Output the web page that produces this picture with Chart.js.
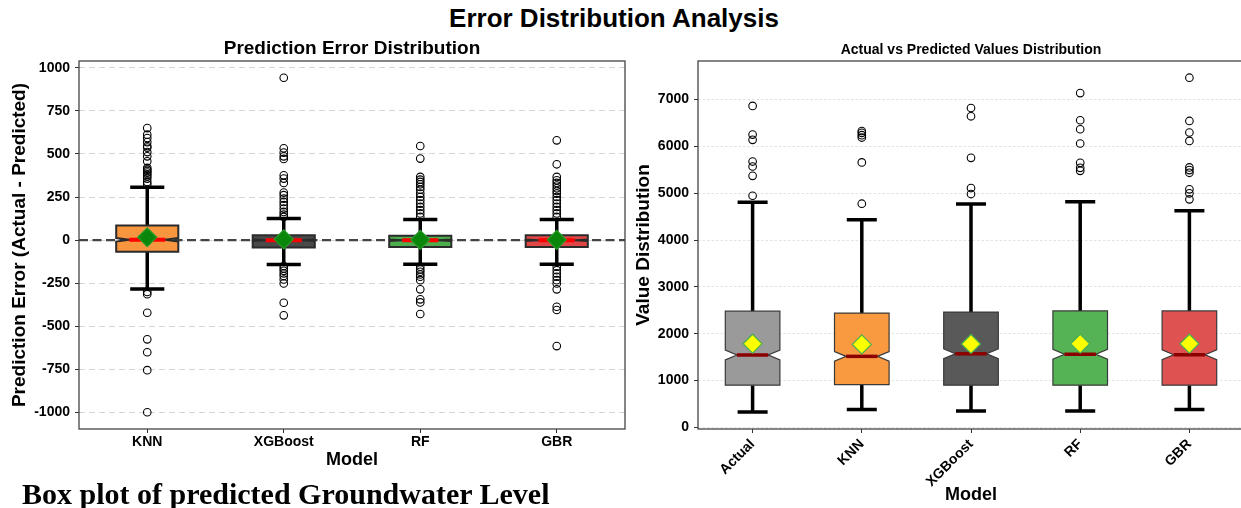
<!DOCTYPE html>
<html>
<head>
<meta charset="utf-8">
<script src="https://cdn.jsdelivr.net/npm/chart.js@4.4.0/dist/chart.umd.min.js"></script>
<style>
  html, body { margin: 0; padding: 0; background: #fff; width: 1241px; height: 508px; overflow: hidden; position: relative; }
  #suptitle { position: absolute; left: 0; width: 1228px; top: 3px; text-align: center; line-height: 26px;
              font: bold 26px "Liberation Sans", Arial, sans-serif; color: #000; }
  #caption { position: absolute; left: 22px; top: 477px; line-height: 30px; white-space: nowrap;
             font: bold 30px "Liberation Serif", "Times New Roman", serif; color: #000; }
  canvas { position: absolute; top: 0; }
  #errChart { left: 0; }
  #valChart { left: 630px; }
</style>
</head>
<body>
<div id="suptitle">Error Distribution Analysis</div>
<canvas id="errChart" width="640" height="508"></canvas>
<canvas id="valChart" width="626" height="508"></canvas>
<div id="caption">Box plot of predicted Groundwater Level</div>
<script>
const FONT = '"Liberation Sans", Arial, Helvetica, sans-serif';
Chart.defaults.font.family = FONT;
Chart.defaults.color = '#000';

// ---- Prediction error (Actual - Predicted) per model ----
const errModels      = ['KNN', 'XGBoost', 'RF', 'GBR'];
const errWhiskerLow  = [-283, -141, -139, -139];
const errQ1          = [-67, -42, -39, -39];
const errMedian      = [2, 0, 0, 0];
const errQ3          = [85, 29, 25, 29];
const errWhiskerHigh = [307, 126, 120, 120];
const errMean        = [17, 5, 2, 2];
const errOutliers = [
  [650, 612, 592, 569, 546, 537, 511, 486, 457, 419, 409, 401, 392, 382, 371, 357, 338, 324,
   -300, -313, -421, -575, -650, -754, -998],
  [942, 533, 508, 486, 471, 376, 357, 332, 276, 261, 241, 222, 203, 183, 164, 149, 135,
   -150, -164, -178, -193, -208, -228, -251, -363, -436],
  [546, 473, 367, 351, 338, 324, 309, 293, 270, 251, 232, 212, 193, 174, 155, 135,
   -154, -170, -183, -199, -212, -232, -285, -343, -361, -428],
  [579, 440, 367, 347, 332, 317, 301, 285, 270, 251, 232, 212, 193, 174, 155, 135,
   -154, -174, -193, -212, -232, -251, -285, -386, -405, -614]
];
const errTickValues = [-1000, -750, -500, -250, 0, 250, 500, 750, 1000];
const errRange = { min: -1095, max: 1039 };

// ---- Actual vs predicted value distribution ----
const valModels      = ['Actual', 'KNN', 'XGBoost', 'RF', 'GBR'];
const valWhiskerLow  = [326, 377, 347, 347, 377];
const valQ1          = [900, 910, 900, 900, 900];
const valMedian      = [1545, 1515, 1570, 1560, 1548];
const valQ3          = [2480, 2440, 2460, 2485, 2485];
const valWhiskerHigh = [4805, 4435, 4770, 4820, 4627];
const valMean        = [1785, 1770, 1780, 1785, 1785];
const valOutliers = [
  [4946, 5372, 5571, 5677, 6140, 6253, 6866],
  [4776, 5658, 6190, 6240, 6290, 6330],
  [4983, 5111, 5756, 6644, 6821],
  [5479, 5543, 5650, 6062, 6367, 6559, 7140],
  [4870, 4998, 5083, 5437, 5494, 5551, 6118, 6297, 6544, 7468]
];
const valTickValues = [0, 1000, 2000, 3000, 4000, 5000, 6000, 7000];
const valRange = { min: -37, max: 7825 };

const sampleSize = 560;  // observations per model, sets the notch height

// Draws frame, optional zero reference line, whiskers, notched boxes and medians
function boxPlotPlugin(stats, style) {
  return {
    id: 'boxPlot',
    beforeDatasetsDraw(chart) {
      const { ctx, chartArea: a, scales: { x, y } } = chart;
      ctx.save();

      if (style.zeroLine) {
        const py = y.getPixelForValue(0);
        ctx.strokeStyle = '#444';
        ctx.lineWidth = 2.2;
        ctx.setLineDash([9, 4.5]);
        ctx.beginPath();
        ctx.moveTo(a.left, py);
        ctx.lineTo(a.right, py);
        ctx.stroke();
        ctx.setLineDash([]);
      }

      const unit = x.getPixelForValue(1) - x.getPixelForValue(0);
      const hw = unit * style.boxWidth / 2;
      const waist = hw * style.waist;
      const cap = unit * style.capWidth / 2;

      stats.q1.forEach((q1, i) => {
        const q3 = stats.q3[i], med = stats.median[i];
        const lo = stats.lo[i], hi = stats.hi[i];
        const cx = x.getPixelForValue(i);
        const Y = v => y.getPixelForValue(v);
        const notch = 1.57 * (q3 - q1) / Math.sqrt(sampleSize);

        // whiskers and caps
        ctx.strokeStyle = '#000';
        ctx.lineWidth = style.whiskerWidth;
        ctx.lineCap = 'butt';
        ctx.beginPath();
        ctx.moveTo(cx, Y(q1)); ctx.lineTo(cx, Y(lo));
        ctx.moveTo(cx, Y(q3)); ctx.lineTo(cx, Y(hi));
        ctx.moveTo(cx - cap, Y(lo)); ctx.lineTo(cx + cap, Y(lo));
        ctx.moveTo(cx - cap, Y(hi)); ctx.lineTo(cx + cap, Y(hi));
        ctx.stroke();

        // notched box
        const L = cx - hw, R = cx + hw;
        ctx.beginPath();
        ctx.moveTo(L, Y(q1));
        ctx.lineTo(L, Y(med - notch));
        ctx.lineTo(cx - waist, Y(med));
        ctx.lineTo(L, Y(med + notch));
        ctx.lineTo(L, Y(q3));
        ctx.lineTo(R, Y(q3));
        ctx.lineTo(R, Y(med + notch));
        ctx.lineTo(cx + waist, Y(med));
        ctx.lineTo(R, Y(med - notch));
        ctx.lineTo(R, Y(q1));
        ctx.closePath();
        ctx.fillStyle = style.fills[i];
        ctx.fill();
        ctx.strokeStyle = style.edge;
        ctx.lineWidth = style.edgeWidth;
        ctx.lineJoin = 'miter';
        ctx.stroke();

        // median
        ctx.strokeStyle = style.medianColor;
        ctx.lineWidth = style.medianWidth;
        ctx.beginPath();
        ctx.moveTo(cx - waist, Y(med));
        ctx.lineTo(cx + waist, Y(med));
        ctx.stroke();
      });

      // axes frame
      ctx.strokeStyle = '#444';
      ctx.lineWidth = 1.3;
      ctx.strokeRect(a.left, a.top, a.width, a.height);
      ctx.restore();
    }
  };
}

function pointsFrom(labels, groups) {
  return groups.flatMap((vals, i) => vals.map(v => ({ x: labels[i], y: v })));
}

function makeChart(id, c) {
  return new Chart(document.getElementById(id), {
    type: 'line',
    data: {
      labels: c.labels,
      datasets: [
        {
          label: 'Mean', data: c.mean, showLine: false,
          pointStyle: 'rectRot', pointRadius: c.meanRadius,
          pointBackgroundColor: c.meanFill, pointBorderColor: c.meanEdge, pointBorderWidth: 1.2
        },
        {
          label: 'Outliers', data: pointsFrom(c.labels, c.outliers), showLine: false,
          pointStyle: 'circle', pointRadius: c.outlierRadius,
          pointBackgroundColor: 'rgba(0,0,0,0)', pointBorderColor: '#000', pointBorderWidth: 1.1
        }
      ]
    },
    options: {
      responsive: false,
      animation: false,
      events: [],
      layout: { padding: c.padding },
      plugins: {
        legend: { display: false },
        tooltip: { enabled: false },
        title: {
          display: true, text: c.title, fullSize: false, color: '#000',
          font: { size: c.titleSize, weight: 'bold', family: FONT },
          padding: c.titlePadding
        }
      },
      scales: {
        x: {
          type: 'category', offset: true,
          grid: { drawOnChartArea: false, drawTicks: true, tickLength: 4, tickColor: '#333', tickWidth: 1 },
          border: { display: false },
          ticks: { font: { size: 14, weight: 'bold' }, color: '#000', padding: c.xTickPad,
                   minRotation: c.xRotation, maxRotation: c.xRotation, autoSkip: false },
          title: { display: true, text: 'Model', font: { size: 18, weight: 'bold' }, color: '#000',
                   padding: { top: 0, bottom: c.xTitlePad } },
          afterFit: s => { s.height = c.xHeight; }
        },
        y: {
          min: c.range.min, max: c.range.max,
          grid: { color: c.gridColor, lineWidth: 1, tickLength: 4, tickColor: '#333', tickWidth: 1 },
          border: { display: false, dash: c.gridDash },
          ticks: { padding: 5, font: { size: 14, weight: 'bold' }, color: '#000',
                   callback: v => String(v) },
          afterBuildTicks: s => { s.ticks = c.tickValues.map(v => ({ value: v })); },
          title: { display: true, text: c.yTitle, font: { size: 19, weight: 'bold' }, color: '#000',
                   padding: { top: c.yTitlePad, bottom: 0 } },
          afterFit: s => { s.width = c.yWidth; }
        }
      }
    },
    plugins: [boxPlotPlugin(c.stats, c.style)]
  });
}

makeChart('errChart', {
  labels: errModels,
  mean: errMean, meanRadius: 9.5, meanFill: '#0a860a', meanEdge: '#2a9d2a',
  outliers: errOutliers, outlierRadius: 3.8,
  padding: { top: 36, right: 15, bottom: 37, left: 0 },
  title: 'Prediction Error Distribution', titleSize: 19, titlePadding: { top: 1.5, bottom: 0.7 },
  xTickPad: 1, xRotation: 0, xTitlePad: 0, xHeight: 42,
  range: errRange, tickValues: errTickValues, gridColor: '#d6d6d6', gridDash: [6, 4],
  yTitle: 'Prediction Error (Actual - Predicted)', yTitlePad: 8.3, yWidth: 79,
  stats: { q1: errQ1, q3: errQ3, median: errMedian, lo: errWhiskerLow, hi: errWhiskerHigh },
  style: {
    zeroLine: true, boxWidth: 0.455, waist: 0.58, capWidth: 0.25, whiskerWidth: 3.5,
    fills: ['#f7963f', '#4a4a4a', '#4cae4c', '#e04646'],
    edge: '#2b2b2b', edgeWidth: 2, medianColor: '#ff0000', medianWidth: 4
  }
});

makeChart('valChart', {
  labels: valModels,
  mean: valMean, meanRadius: 9.5, meanFill: '#ffff00', meanEdge: '#4caf50',
  outliers: valOutliers, outlierRadius: 3.8,
  padding: { top: 36, right: 12, bottom: 1, left: 0 },
  title: 'Actual vs Predicted Values Distribution', titleSize: 14, titlePadding: { top: 5.4, bottom: 2.8 },
  xTickPad: 3, xRotation: 45, xTitlePad: 0.7, xHeight: 78,
  range: valRange, tickValues: valTickValues, gridColor: '#e2e2e2', gridDash: [2.5, 2],
  yTitle: 'Value Distribution', yTitlePad: 2.6, yWidth: 68,
  stats: { q1: valQ1, q3: valQ3, median: valMedian, lo: valWhiskerLow, hi: valWhiskerHigh },
  style: {
    zeroLine: false, boxWidth: 0.5, waist: 0.575, capWidth: 0.275, whiskerWidth: 3.5,
    fills: ['#9a9a9a', '#fa9a40', '#595959', '#55b355', '#de5252'],
    edge: '#3a3a3a', edgeWidth: 1.2, medianColor: '#8b0000', medianWidth: 3.5
  }
});
</script>
</body>
</html>
